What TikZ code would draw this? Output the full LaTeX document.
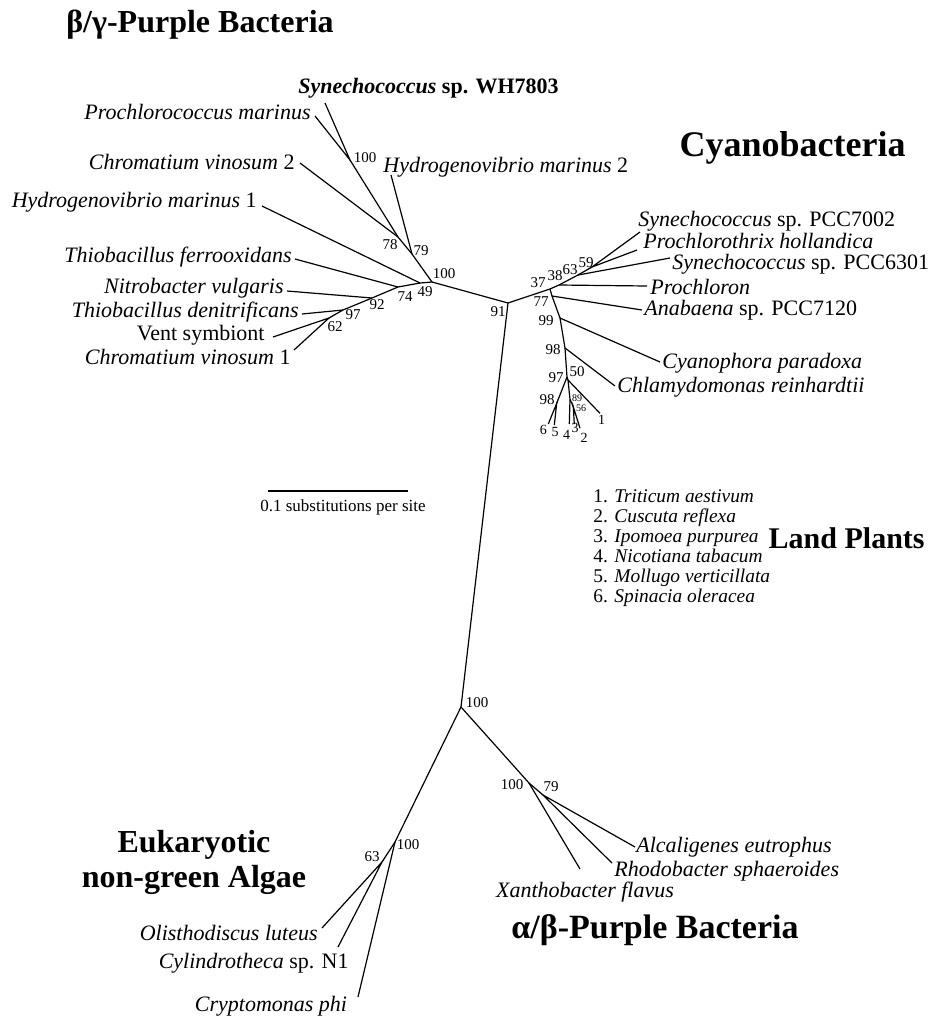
\documentclass[tikz,border=0pt]{standalone}
\usepackage{fontspec}
\setmainfont{Liberation Serif}
\usetikzlibrary{positioning}

\begin{document}
\begin{tikzpicture}[x=0.5pt,y=-0.5pt,
    branch/.style={line width=0.6pt},
    taxon/.style={inner sep=1pt,font=\fontsize{11}{13}\selectfont},
    boot/.style={inner sep=0pt,font=\fontsize{7.5}{8}\selectfont},
    leaf/.style={inner sep=0pt,font=\fontsize{7}{8}\selectfont},
    tinyboot/.style={inner sep=0pt,font=\fontsize{5}{6}\selectfont},
    clade/.style={inner sep=0pt,align=center,font=\fontsize{16}{17.5}\selectfont\bfseries}]
    \useasboundingbox (0,0) rectangle (930,1019);
    % group names
    \node[clade] (bgname) at (200,25) {β/γ-Purple Bacteria};
    \node[clade,anchor=east,font=\fontsize{18}{20}\selectfont\bfseries] (cyname) at (906,148) {Cyanobacteria};
    \node[clade,anchor=east,font=\fontsize{15}{17}\selectfont\bfseries] (lpname) at (925,538) {Land Plants};
    \node[clade] (euname) at (194,862) {Eukaryotic\\non-green Algae};
    \node[clade,font=\fontsize{17}{19}\selectfont\bfseries] (abname) at (655,930) {α/β-Purple Bacteria};
    % inner nodes
    \coordinate (root) at (508,303);
    \coordinate (b100a) at (350,160);
    \coordinate (b78) at (398,237);
    \coordinate (b79) at (412,254);
    \coordinate (b100) at (432,282);
    \coordinate (b49) at (420,283);
    \coordinate (b74) at (398,287);
    \coordinate (b92) at (372,298);
    \coordinate (b97) at (343,310);
    \coordinate (b62) at (329,318);
    \coordinate (c37) at (550,289);
    \coordinate (c38) at (559,285);
    \coordinate (c63) at (578,275);
    \coordinate (c59) at (592,267);
    \coordinate (c77) at (552,296);
    \coordinate (c99) at (560,318);
    \coordinate (c98) at (565,348);
    \coordinate (c97) at (567,377);
    \coordinate (c50) at (568,380);
    \coordinate (p98) at (556.7,403.3);
    \coordinate (p89) at (570,399.3);
    \coordinate (p56) at (573.3,406.7);
    \coordinate (a100) at (461,707);
    \coordinate (a100b) at (529,783);
    \coordinate (a79) at (543,795);
    \coordinate (e100) at (395,842);
    \coordinate (e63) at (382,862);
    % backbone
    \draw[branch] (b100a) -- (b78) -- (b79) -- (b100) -- (b49) -- (b74) -- (b92) -- (b97) -- (b62);
    \draw[branch] (b100) -- (root) -- (c37) -- (c38) -- (c63) -- (c59);
    \draw[branch] (c37) -- (c77) -- (c99) -- (c98) -- (c97) -- (c50);
    \draw[branch] (c97) -- (p98);
    \draw[branch] (c50) -- (p89) -- (p56);
    \draw[branch] (root) -- (a100) -- (a100b) -- (a79);
    \draw[branch] (a100) -- (e100) -- (e63);
    % beta/gamma purple bacteria tips
    \node[taxon,anchor=west,font=\fontsize{11}{13}\selectfont\bfseries] (synwh) at (296,88) {\textit{Synechococcus} sp. WH7803};
    \coordinate (t-synwh) at (325,103);
    \node[taxon,anchor=east] (prm) at (313,112) {\textit{Prochlorococcus marinus}};
    \coordinate (t-prm) at (315,116);
    \node[taxon,anchor=east] (cv2) at (297,162) {\textit{Chromatium vinosum} 2};
    \coordinate (t-cv2) at (300,163);
    \node[taxon,anchor=west] (hm2) at (381,167) {\textit{Hydrogenovibrio marinus} 2};
    \coordinate (t-hm2) at (391,175);
    \node[taxon,anchor=east] (hm1) at (259,202) {\textit{Hydrogenovibrio marinus} 1};
    \coordinate (t-hm1) at (262,206);
    \node[taxon,anchor=east] (tfe) at (294,257) {\textit{Thiobacillus ferrooxidans}};
    \coordinate (t-tfe) at (295,259);
    \node[taxon,anchor=east] (nvu) at (286,288) {\textit{Nitrobacter vulgaris}};
    \coordinate (t-nvu) at (287,291);
    \node[taxon,anchor=east] (tde) at (301,312) {\textit{Thiobacillus denitrificans}};
    \coordinate (t-tde) at (302,314);
    \node[taxon,anchor=east] (vsy) at (267,335) {Vent symbiont};
    \coordinate (t-vsy) at (273,337);
    \node[taxon,anchor=east] (cv1) at (293,357) {\textit{Chromatium vinosum} 1};
    \coordinate (t-cv1) at (294,350);
    \draw[branch] (t-synwh) -- (b100a) -- (t-prm);
    \draw[branch] (t-cv2) -- (b78);
    \draw[branch] (t-hm2) -- (b79);
    \draw[branch] (t-hm1) -- (b49);
    \draw[branch] (t-tfe) -- (b74);
    \draw[branch] (t-nvu) -- (b92);
    \draw[branch] (t-tde) -- (b97);
    \draw[branch] (t-vsy) -- (b62) -- (t-cv1);
    % cyanobacteria tips
    \node[taxon,anchor=west] (s7002) at (636,221) {\textit{Synechococcus} sp. PCC7002};
    \coordinate (t-s7002) at (640,232);
    \node[taxon,anchor=west] (pho) at (641,241) {\textit{Prochlorothrix hollandica}};
    \coordinate (t-pho) at (637,250);
    \node[taxon,anchor=west] (s6301) at (670,264) {\textit{Synechococcus} sp. PCC6301};
    \coordinate (t-s6301) at (670,258);
    \node[taxon,anchor=west] (pcl) at (648,287) {\textit{Prochloron}};
    \coordinate (t-pcl) at (647,286);
    \node[taxon,anchor=west] (ana) at (642,310) {\textit{Anabaena} sp. PCC7120};
    \coordinate (t-ana) at (642,310);
    \node[taxon,anchor=west] (cpa) at (660,363) {\textit{Cyanophora paradoxa}};
    \coordinate (t-cpa) at (660,362);
    \node[taxon,anchor=west] (chr) at (615,387) {\textit{Chlamydomonas reinhardtii}};
    \coordinate (t-chr) at (615,386);
    \draw[branch] (t-s7002) -- (c59) -- (t-pho);
    \draw[branch] (t-s6301) -- (c63);
    \draw[branch] (t-pcl) -- (c38);
    \draw[branch] (t-ana) -- (c77);
    \draw[branch] (t-cpa) -- (c99);
    \draw[branch] (t-chr) -- (c98);
    % land plants
    \coordinate (t6) at (548.3,424);
    \coordinate (t5) at (554.3,425);
    \coordinate (t4) at (569.3,424);
    \coordinate (t3) at (574.3,424);
    \coordinate (t2) at (580,428.3);
    \coordinate (t1) at (600,413.3);
    \draw[branch] (t6) -- (p98) -- (t5);
    \draw[branch] (t1) -- (c50);
    \draw[branch] (t4) -- (p89);
    \draw[branch] (t3) -- (p56) -- (t2);
    \node[leaf] (n6) at (543.3,430) {6};
    \node[leaf] (n5) at (555,431.7) {5};
    \node[leaf] (n4) at (566.7,435) {4};
    \node[leaf] (n3) at (575,428.3) {3};
    \node[leaf] (n2) at (584,438.3) {2};
    \node[leaf] (n1) at (601.7,420) {1};
    \node[anchor=west,align=left,inner sep=0pt,font=\fontsize{9.7}{10}\selectfont] (key) at (593,548)
        {1. \textit{Triticum aestivum}\\2. \textit{Cuscuta reflexa}\\3. \textit{Ipomoea purpurea}\\4. \textit{Nicotiana tabacum}\\5. \textit{Mollugo verticillata}\\6. \textit{Spinacia oleracea}};
    % alpha/beta purple bacteria
    \node[taxon] (xfl) at (585,892) {\textit{Xanthobacter flavus}};
    \coordinate (t-xfl) at (580,869);
    \node[taxon,anchor=west] (rsp) at (612,871) {\textit{Rhodobacter sphaeroides}};
    \coordinate (t-rsp) at (612,863);
    \node[taxon,anchor=west] (aeu) at (634,847) {\textit{Alcaligenes eutrophus}};
    \coordinate (t-aeu) at (635,847);
    \draw[branch] (t-xfl) -- (a100b);
    \draw[branch] (t-rsp) -- (a79) -- (t-aeu);
    % non-green algae
    \node[taxon] (cph) at (271,1006) {\textit{Cryptomonas phi}};
    \coordinate (t-cph) at (358,997);
    \node[taxon,anchor=east] (olu) at (320,933) {\textit{Olisthodiscus luteus}};
    \coordinate (t-olu) at (322,928);
    \node[taxon,anchor=east] (cyl) at (351,963) {\textit{Cylindrotheca} sp. N1};
    \coordinate (t-cyl) at (338,947);
    \draw[branch] (t-cph) -- (e100);
    \draw[branch] (t-olu) -- (e63) -- (t-cyl);
    % bootstrap values
    \node[boot] (v-b100a) at (365,158) {100};
    \node[boot] (v-b78) at (390,245) {78};
    \node[boot] (v-b79) at (421,251) {79};
    \node[boot] (v-b100) at (444,274) {100};
    \node[boot] (v-b49) at (425,292) {49};
    \node[boot] (v-b74) at (405,297) {74};
    \node[boot] (v-b92) at (377,305) {92};
    \node[boot] (v-b97) at (353,315) {97};
    \node[boot] (v-b62) at (335,327) {62};
    \node[boot] (v-root) at (498,312) {91};
    \node[boot] (v-c37) at (538,283) {37};
    \node[boot] (v-c38) at (555,276) {38};
    \node[boot] (v-c63) at (570,270) {63};
    \node[boot] (v-c59) at (586,263) {59};
    \node[boot] (v-c77) at (541,302) {77};
    \node[boot] (v-c99) at (546,321) {99};
    \node[boot] (v-c98) at (553,350) {98};
    \node[boot] (v-c97) at (556,378) {97};
    \node[boot] (v-c50) at (577,372) {50};
    \node[boot] (v-p98) at (547,400) {98};
    \node[tinyboot] (v-p89) at (577,398) {89};
    \node[tinyboot] (v-p56) at (581,408) {56};
    \node[boot] (v-a100) at (477,703) {100};
    \node[boot] (v-a100b) at (512,785) {100};
    \node[boot] (v-a79) at (551,787) {79};
    \node[boot] (v-e100) at (408,845) {100};
    \node[boot] (v-e63) at (372,857) {63};
    % scale bar
    \coordinate (sb-l) at (268,491);
    \coordinate (sb-r) at (408,491);
    \draw[line width=1.2pt] (sb-l) -- (sb-r);
    \node[inner sep=0pt,font=\fontsize{8.5}{10}\selectfont] (sbtext) at (343,507) {0.1 substitutions per site};
\end{tikzpicture}
\end{document}
